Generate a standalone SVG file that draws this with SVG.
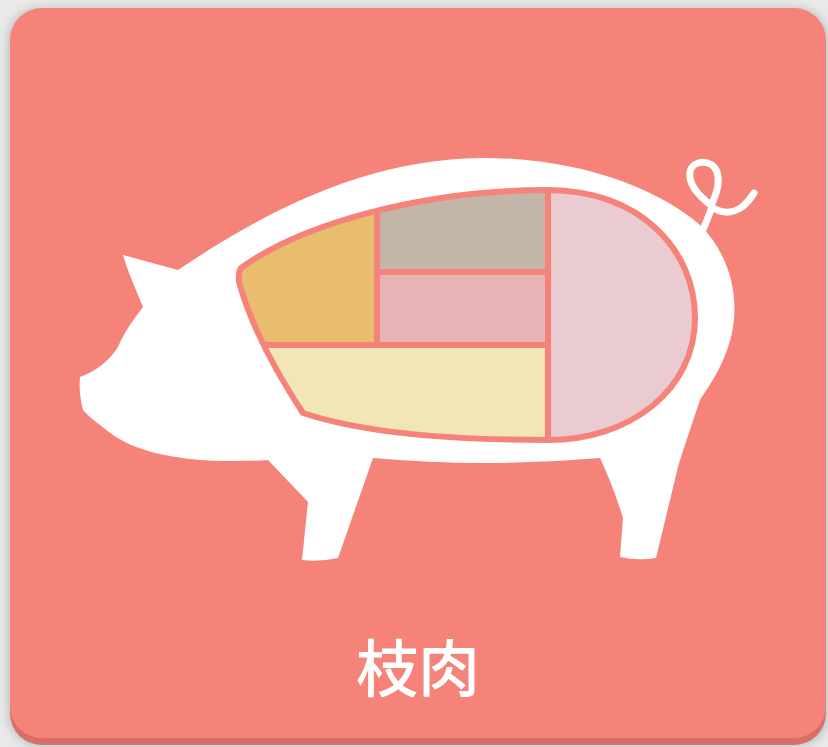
<svg xmlns="http://www.w3.org/2000/svg" width="828" height="747" viewBox="0 0 828 747">
  <style>
    .cut-line { stroke: #F5837A; stroke-width: 6; fill: none; stroke-linecap: round; stroke-linejoin: round; }
    .label { font-family: "Noto Sans CJK JP", "Noto Sans", sans-serif; font-weight: 500; font-size: 62px; fill: #FFFFFF; }
  </style>
  <defs>
    <filter id="soft" x="-10%" y="-10%" width="120%" height="120%">
      <feGaussianBlur stdDeviation="5"/>
    </filter>
    <clipPath id="bodyClip">
      <path id="bodyShape" d="M 241 268 C 300 225 420 190 548 190 C 640 190 695 250 695 318 C 695 390 630 440 548 440 C 450 440 360 432 303 413 Q 255 340 239 282 Q 238 273 241 268 Z"/>
    </clipPath>
  </defs>

  <!-- page background and card -->
  <rect x="0" y="0" width="828" height="747" fill="#E9E9E9"/>
  <rect x="8" y="8" width="820" height="738" rx="32" fill="#BDBDBD" filter="url(#soft)"/>
  <g id="card">
    <rect x="10" y="15" width="816" height="730" rx="32" fill="#D66F67"/>
    <rect x="10" y="8" width="816" height="730" rx="32" fill="#F6837A"/>
  </g>

  <!-- pig silhouette -->
  <g id="pig">
    <path fill="#FFFFFF" d="M 123 255 L 178 270 C 260 215 360 160 480 158 C 580 157 660 190 700 225 C 735 260 742 310 727 350 C 718 375 706 390 700 400 C 690 430 683 450 678 467 L 656 558 Q 638 561 620 557 L 623 518 C 616 495 608 475 600 458 Q 485 468 373 458 L 338 558 Q 320 562 302 560 L 308 502 L 268 460 C 200 464 145 457 113 435 C 97 423 87 415 83 410 C 80 398 79 388 80 377 C 95 372 110 360 118 347 C 125 330 135 318 143 307 C 136 290 128 272 123 255 Z"/>
    <path fill="none" stroke="#FFFFFF" stroke-width="7" stroke-linecap="round" stroke-linejoin="round" d="M 702 232 C 706 222 710 214 712 206 C 700 197 688 185 690 172 C 692 160 712 158 717 172 C 721 186 714 198 711 206 C 720 214 732 214 742 207 C 747 203 751 198 754 193"/>
  </g>

  <!-- meat cuts -->
  <g id="cuts" clip-path="url(#bodyClip)">
    <g id="cut-shoulder"><rect x="220" y="180" width="157" height="165" fill="#E8BD6E"/></g>
    <g id="cut-loin"><rect x="377" y="180" width="171" height="92" fill="#C4B5A9"/></g>
    <g id="cut-tenderloin"><rect x="377" y="272" width="171" height="73" fill="#E7B4B5"/></g>
    <g id="cut-belly"><rect x="220" y="345" width="328" height="110" fill="#F2E6B6"/></g>
    <g id="cut-ham"><rect x="548" y="180" width="160" height="275" fill="#EACBD1"/></g>
  </g>

  <!-- dividing lines -->
  <g id="connectors" clip-path="url(#bodyClip)">
    <line class="cut-line" x1="377" y1="180" x2="377" y2="345"/>
    <line class="cut-line" x1="220" y1="345" x2="548" y2="345"/>
    <line class="cut-line" x1="377" y1="272" x2="548" y2="272"/>
    <line class="cut-line" x1="548" y1="180" x2="548" y2="450"/>
  </g>
  <use href="#bodyShape" class="cut-line"/>

  <g id="title">
    <text class="label" x="418" y="692" text-anchor="middle">枝肉</text>
  </g>
</svg>
